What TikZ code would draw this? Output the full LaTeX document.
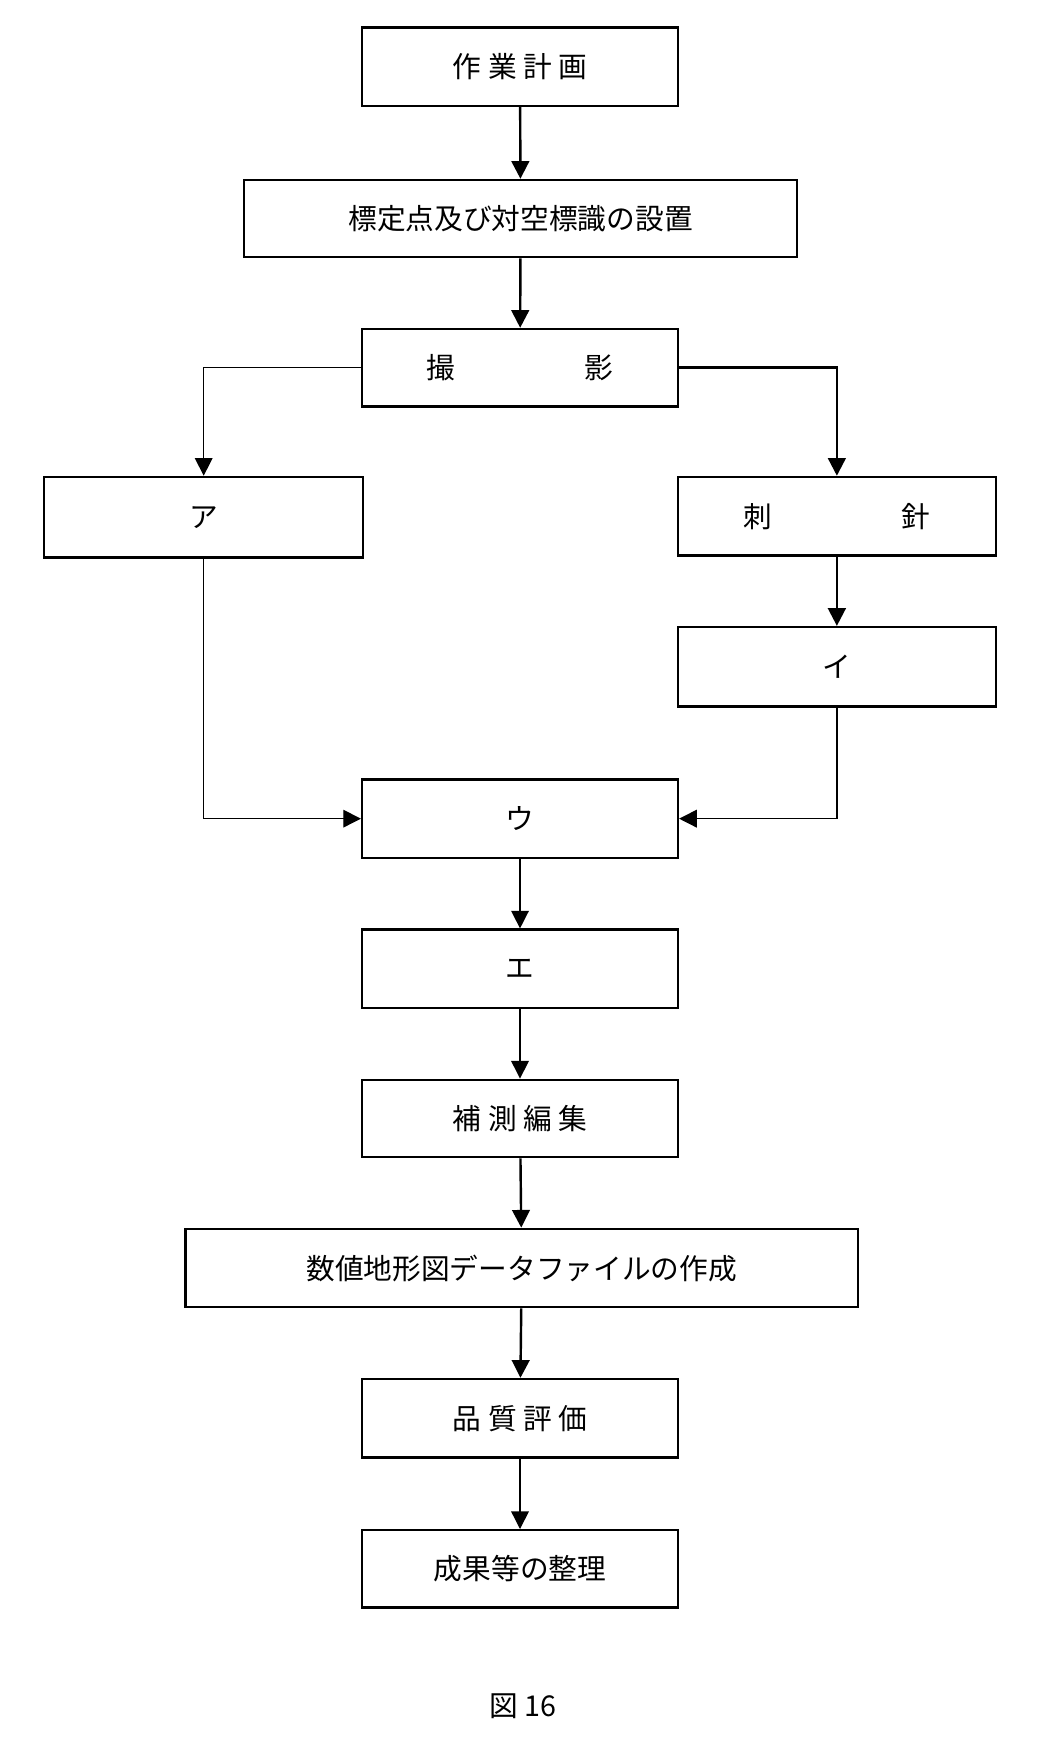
\documentclass[tikz,border=0pt]{standalone}
\usepackage{fontspec}
\setmainfont{Noto Sans CJK JP}
\usetikzlibrary{arrows.meta}
\begin{document}
\begin{tikzpicture}[x=1pt,y=-1pt,
 bx/.style={draw,line width=2.2pt,inner sep=0pt,font=\fontsize{26}{30}\selectfont},
 ar/.style={line width=2.2pt,-{Triangle[length=16pt,width=16pt]}},
 thin/.style={line width=1.2pt,-{Triangle[length=16pt,width=16pt]}}]
\useasboundingbox (0,0) rectangle (960,1576);
\newcommand\bxx[6]{\node[bx,minimum width=#3-#2,minimum height=#5-#4] (#1) at ({(#2+#3)/2},{(#4+#5)/2}) {#6};}
\bxx{a}{328}{614}{25}{96}{作\ 業\ 計\ 画}
\bxx{b}{221}{722}{163}{233}{標定点及び対空標識の設置}
\bxx{c}{328}{614}{298}{368}{撮\hspace{4.5em}影}
\bxx{d}{40}{329}{432}{505}{ア}
\bxx{e}{614}{902}{432}{503}{刺\hspace{4.5em}針}
\bxx{f}{614}{902}{568}{640}{イ}
\bxx{g}{328}{614}{706}{777}{ウ}
\bxx{h}{328}{614}{842}{913}{エ}
\bxx{i}{328}{614}{978}{1048}{補\ 測\ 編\ 集}
\bxx{j}{168}{777}{1113}{1184}{数値地形図データファイルの作成}
\bxx{k}{328}{614}{1249}{1320}{品\ 質\ 評\ 価}
\bxx{l}{328}{614}{1386}{1456}{成果等の整理}
\node[font=\fontsize{26}{30}\selectfont] (cap) at (474,1545) {図 16};
\draw[ar] (a) -- (b);
\draw[ar] (b) -- (c);
\draw[thin] (c.west) -| (d.north);
\draw[ar] (c.east) -| (e.north);
\draw[ar] (e) -- (f);
\draw[thin] (d.south) |- (g.west);
\draw[thin] (f.south) |- (g.east);
\draw[thin] (g) -- (h);
\draw[thin] (h) -- (i);
\draw[ar] (i) -- (j);
\draw[ar] (j) -- (k);
\draw[thin] (k) -- (l);
\end{tikzpicture}
\end{document}
